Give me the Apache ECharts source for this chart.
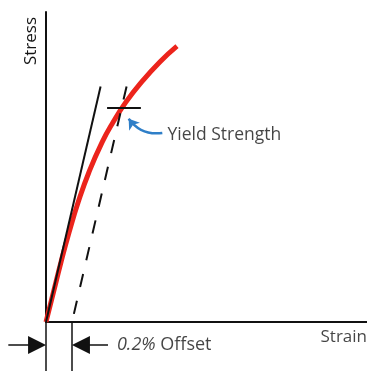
<!DOCTYPE html>
<html><head><meta charset="utf-8">
<script src="https://cdn.jsdelivr.net/npm/echarts@6/dist/echarts.min.js"></script>
<style>html,body{margin:0;padding:0;background:#fff}#c{width:367px;height:371px}</style>
</head><body><div id="c"></div>
<script>
// Stress-strain curve (strain in %, stress in arbitrary units)
const strain = [0, 0.058, 0.116, 0.178, 0.248, 0.331, 0.433, 0.517, 0.616, 0.735, 0.876, 1.008];
const stress = [0, 9.7, 19.4, 29.0, 38.7, 48.4, 58.1, 64.5, 71.0, 77.4, 83.9, 89.0];
const offsetStrain = 0.2;
const elasticLine = [[0, 0], [0.42, 76]];
const offsetLine = [[0.62, 76], [0.2, 0]];
const yieldTick = [[0.47, 69], [0.73, 69]];
const calloutArrow = [[0.895, 61.0], [0.636, 65.6]];
const calloutLabel = [0.935, 60.3];
// dimension arrow shafts (symbol centred on end, so shafts stop half an arrowhead short)
const dimLeftArrow = [[-0.29, -7.4], [-0.069, -7.4]];
const dimRightArrow = [[0.477, -7.4], [0.269, -7.4]];
const extLines = [[[0, 0], [0, -16]], [[0.2, 0], [0.2, -16]]];
const offsetLabel = [0.546, -7.4];
const strainLabel = [2.47, -4.9];
const xName = 'Strain', yName = 'Stress', yieldText = 'Yield Strength';

const FONT = 'Open Sans';
const TXT = '#151515';
const chart = echarts.init(document.getElementById('c'), null, {renderer: 'canvas'});
chart.setOption({
  animation: false,
  grid: {left: 46, right: 0, top: 12, bottom: 49},
  xAxis: {
    type: 'value', min: 0, max: 2.47,
    axisLine: {lineStyle: {color: '#111', width: 2}},
    axisTick: {show: false}, axisLabel: {show: false}, splitLine: {show: false}
  },
  yAxis: {
    type: 'value', min: 0, max: 100,
    axisLine: {lineStyle: {color: '#111', width: 2}},
    axisTick: {show: false}, axisLabel: {show: false}, splitLine: {show: false},
    name: yName, nameLocation: 'end', nameGap: -5, nameRotate: 90,
    nameTextStyle: {fontFamily: FONT, fontSize: 17, color: TXT, align: 'right', verticalAlign: 'bottom', padding: [0, 0, 6, 0]}
  },
  series: [
    {type: 'line', data: strain.map((s, i) => [s, stress[i]]), smooth: true, showSymbol: false,
     lineStyle: {color: '#ec241c', width: 5}, z: 2},
    {type: 'line', data: elasticLine, showSymbol: false, lineStyle: {color: '#111', width: 2}, z: 3},
    {type: 'line', data: offsetLine, showSymbol: false, lineStyle: {color: '#111', width: 2, type: [13.5, 14]}, z: 3},
    {type: 'line', data: yieldTick, showSymbol: false, lineStyle: {color: '#111', width: 2}, z: 4},
    {type: 'lines', coordinateSystem: 'cartesian2d', clip: false, z: 4,
     symbol: ['none', 'arrow'], symbolSize: [8, 10],
     lineStyle: {color: '#2f7fc8', width: 2.5, curveness: 0.3, opacity: 1},
     data: [{coords: calloutArrow}]},
    {type: 'lines', coordinateSystem: 'cartesian2d', clip: false, z: 4,
     symbol: 'none', lineStyle: {color: '#111', width: 1.5, opacity: 1},
     data: extLines.map(c => ({coords: c}))},
    {type: 'lines', coordinateSystem: 'cartesian2d', clip: false, z: 4,
     symbol: ['none', 'triangle'], symbolSize: [11, 18],
     lineStyle: {color: '#111', width: 1.5, opacity: 1},
     data: [{coords: dimLeftArrow}, {coords: dimRightArrow}]},
    {type: 'scatter', clip: false, symbolSize: 0, z: 5,
     data: [{value: calloutLabel, label: {formatter: yieldText}},
            {value: offsetLabel, label: {formatter: '{i|0.2%} Offset', fontSize: 18,
              rich: {i: {fontStyle: 'italic', fontFamily: FONT, fontSize: 18, color: TXT}}}},
            {value: strainLabel, label: {formatter: xName, position: 'left', fontSize: 17}}],
     label: {show: true, position: 'right', distance: 0, fontFamily: FONT, fontSize: 17.5, color: TXT}}
  ]
});
</script></body></html>
